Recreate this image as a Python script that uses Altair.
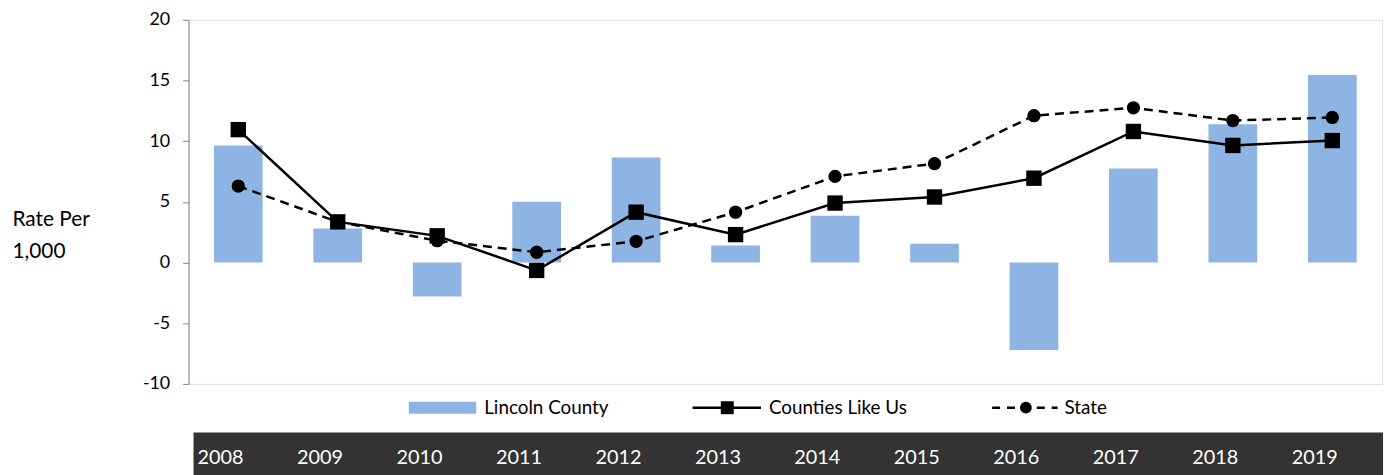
import altair as alt
import pandas as pd

years = ["2008", "2009", "2010", "2011", "2012", "2013", "2014", "2015", "2016", "2017", "2018", "2019"]
lincoln = [9.65, 2.8, -2.8, 5.0, 8.65, 1.4, 3.85, 1.55, -7.2, 7.75, 11.4, 15.45]
counties = [10.95, 3.35, 2.2, -0.65, 4.15, 2.3, 4.9, 5.4, 6.95, 10.8, 9.65, 10.05]
state = [6.3, 3.35, 1.8, 0.85, 1.75, 4.15, 7.1, 8.15, 12.1, 12.75, 11.7, 11.95]
series_names = ["Lincoln County", "Counties Like Us", "State"]
y_ticks = [-10, -5, 0, 5, 10, 15, 20]

df = pd.DataFrame({"year": years, "lincoln": lincoln, "counties": counties, "state": state})

FONT = "Lato"
BLUE = "#8EB4E3"

xs = alt.Scale(domain=years, paddingInner=0.51, paddingOuter=0.255)
xenc = alt.X("year:O", scale=xs, axis=None)
ys = alt.Scale(domain=[-10, 20], nice=False, zero=False)

bars = alt.Chart(df).mark_bar(color=BLUE).encode(
    x=xenc,
    y=alt.Y("lincoln:Q", scale=ys,
            axis=alt.Axis(values=y_ticks, grid=False, domainColor="#868686", tickColor="#868686",
                          tickSize=6, labelFont=FONT, labelFontSize=18, labelColor="#000000",
                          labelExpr="toString(datum.value)",
                          labelPadding=13, title=["Rate Per", "1,000"], titleAngle=0,
                          titleX=-178, titleY=201, titleAlign="left", titleBaseline="middle",
                          titleFont=FONT, titleFontSize=21, titleFontWeight="normal",
                          titleColor="#000000", titleLineHeight=33)),
)

state_line = alt.Chart(df).mark_line(color="black", strokeWidth=2.5, strokeDash=[9, 6]).encode(
    x=xenc, y=alt.Y("state:Q", scale=ys))
state_pts = alt.Chart(df).mark_point(shape="circle", filled=True, size=180, color="black", opacity=1).encode(
    x=xenc, y=alt.Y("state:Q", scale=ys))
cty_line = alt.Chart(df).mark_line(color="black", strokeWidth=2.5).encode(
    x=xenc, y=alt.Y("counties:Q", scale=ys))
cty_pts = alt.Chart(df).mark_point(shape="square", filled=True, size=240, color="black", opacity=1).encode(
    x=xenc, y=alt.Y("counties:Q", scale=ys))

# Bottom data-table strip with year labels
strip = alt.Chart(pd.DataFrame({"k": [1]})).mark_rect(color="#333333").encode(
    x=alt.value(5), x2=alt.value(1204), y=alt.value(416), y2=alt.value(470))
year_labels = alt.Chart(df).mark_text(align="left", baseline="middle", dx=-41, color="white",
                                      font=FONT, fontSize=20).encode(
    x=xenc, y=alt.value(442), text="year:N")

# Custom legend
ly = 391
LFS = 19
leg1 = pd.DataFrame({"label": [series_names[0]]})
leg2 = pd.DataFrame({"label": [series_names[1]]})
leg3 = pd.DataFrame({"label": [series_names[2]]})
l1_rect = alt.Chart(leg1).mark_rect(color=BLUE).encode(
    x=alt.value(222), x2=alt.value(290), y=alt.value(385), y2=alt.value(397))
l1_text = alt.Chart(leg1).mark_text(align="left", baseline="middle", font=FONT, fontSize=LFS, color="black").encode(
    x=alt.value(298), y=alt.value(ly), text="label:N")
l2_rule = alt.Chart(leg2).mark_rule(color="black", strokeWidth=2.5).encode(
    x=alt.value(508), x2=alt.value(577), y=alt.value(ly))
l2_pt = alt.Chart(leg2).mark_point(shape="square", filled=True, size=170, color="black", opacity=1).encode(
    x=alt.value(543), y=alt.value(ly))
l2_text = alt.Chart(leg2).mark_text(align="left", baseline="middle", font=FONT, fontSize=LFS, color="black").encode(
    x=alt.value(585), y=alt.value(ly), text="label:N")
l3_rule = alt.Chart(leg3).mark_rule(color="black", strokeWidth=2.5, strokeDash=[8, 7]).encode(
    x=alt.value(810), x2=alt.value(876), y=alt.value(ly))
l3_pt = alt.Chart(leg3).mark_point(shape="circle", filled=True, size=140, color="black", opacity=1).encode(
    x=alt.value(844), y=alt.value(ly))
l3_text = alt.Chart(leg3).mark_text(align="left", baseline="middle", font=FONT, fontSize=LFS, color="black").encode(
    x=alt.value(883), y=alt.value(ly), text="label:N")

chart = alt.layer(
    bars, state_line, state_pts, cty_line, cty_pts, strip, year_labels,
    l1_rect, l1_text, l2_rule, l2_pt, l2_text, l3_rule, l3_pt, l3_text
).properties(
    width=1203, height=367,
    padding={"left": 182, "top": 10, "right": 6, "bottom": 100},
    autosize=alt.AutoSizeParams(type="none"),
).configure_view(stroke=None).configure(background="white")

chart.save("out.html", embed_options={"renderer": "svg", "actions": False})
